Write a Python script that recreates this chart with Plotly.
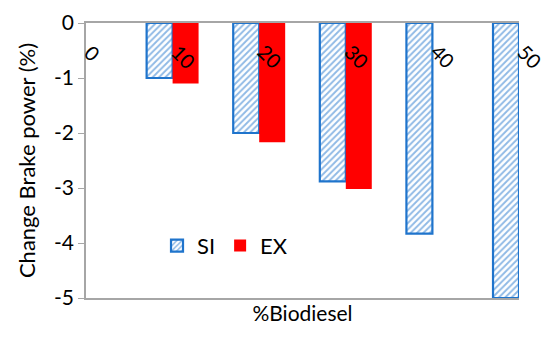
import plotly.graph_objects as go

categories = [0, 10, 20, 30, 40, 50]
tick_labels = ["0", "10", "20", "30", "40", "50"]
si_values = [0, -1.0, -2.0, -2.88, -3.83, -5.0]
ex_values = [0, -1.1, -2.17, -3.02, None, None]
y_ticks = [0, -1, -2, -3, -4, -5]
y_tick_labels = ["0", "-1", "-2", "-3", "-4", "-5"]

BLUE = "#1F74CC"
FONT = "Lato"

fig = go.Figure()
fig.add_trace(go.Bar(
    x=categories, y=si_values, name="SI",
    marker=dict(color="white", line=dict(color=BLUE, width=2.2),
                pattern=dict(shape="/", fgcolor=BLUE, bgcolor="white", size=4.5, solidity=0.42)),
))
fig.add_trace(go.Bar(
    x=categories, y=ex_values, name="EX",
    marker=dict(color="#FF0000", line=dict(width=0)),
))

for c, t in zip(categories, tick_labels):
    fig.add_annotation(x=c, y=0, xref="x", yref="y", text=t, showarrow=False,
                       textangle=45, xanchor="left", yanchor="top",
                       xshift=-9, yshift=-14,
                       font=dict(family=FONT, size=20, color="#000000"))

# page body has an 8px default margin, so the figure is sized/offset to compensate
fig.update_layout(
    width=542, height=336,
    margin=dict(l=78, r=31, t=15, b=46),
    paper_bgcolor="white", plot_bgcolor="white",
    font=dict(family=FONT, size=20, color="#000000"),
    barmode="group", bargap=0.4, bargroupgap=0,
    showlegend=True,
    legend=dict(orientation="h", x=0.164, y=0.19, xanchor="left", yanchor="middle",
                font=dict(family=FONT, size=22), bgcolor="rgba(0,0,0,0)",
                itemwidth=30, traceorder="normal"),
    xaxis=dict(range=[0, 50], showticklabels=False, ticks="", showgrid=False,
               zeroline=False, showline=True, linecolor="#A6A6A6", linewidth=1.5, mirror=True,
               automargin=False,
               title=dict(text="%Biodiesel", font=dict(family=FONT, size=21), standoff=8)),
    yaxis=dict(range=[-5, 0], tickmode="array", tickvals=y_ticks, ticktext=y_tick_labels,
               showgrid=False, zeroline=False, automargin=False,
               showline=True, linecolor="#A6A6A6", linewidth=1.5,
               ticks="outside", ticklen=6, tickcolor="#A6A6A6",
               tickfont=dict(family=FONT, size=21),
               title=dict(text="Change Brake power (%)", font=dict(family=FONT, size=22), standoff=12)),
)

fig.write_html("out.html")
